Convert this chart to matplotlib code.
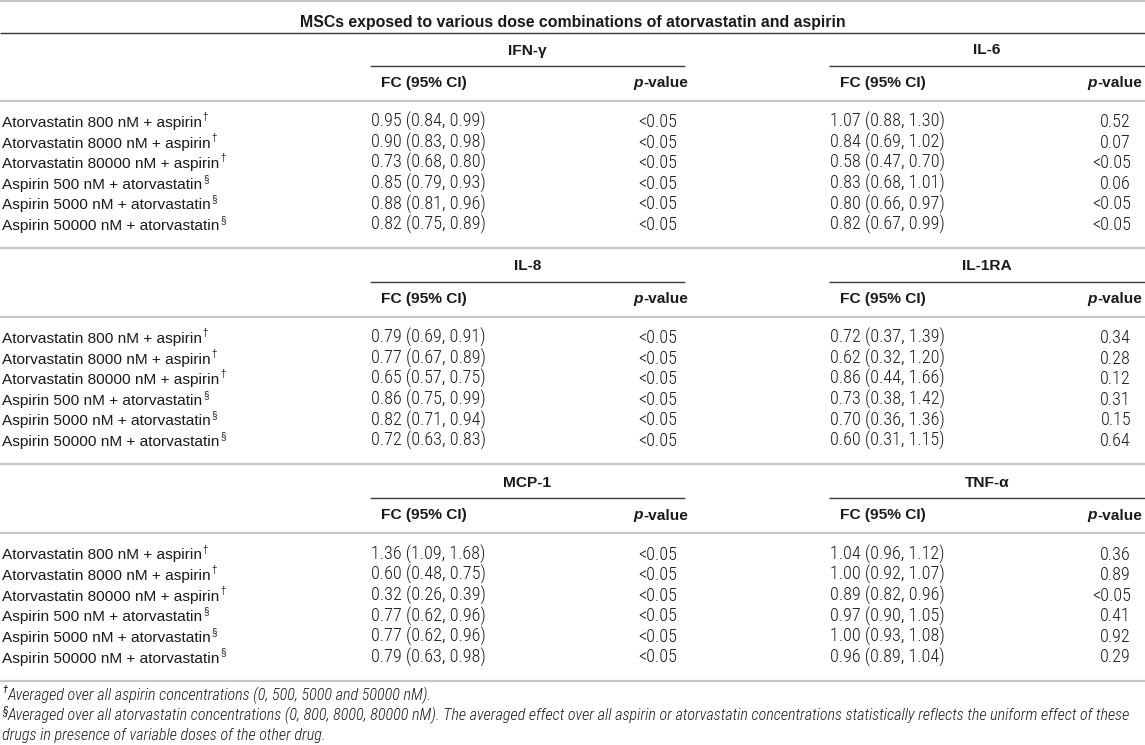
import matplotlib
matplotlib.use("Agg")
import matplotlib.pyplot as plt
from matplotlib import font_manager as fm

# ---------------- data ----------------
title = "MSCs exposed to various dose combinations of atorvastatin and aspirin"
row_labels = ["Atorvastatin 800 nM + aspirin", "Atorvastatin 8000 nM + aspirin",
              "Atorvastatin 80000 nM + aspirin", "Aspirin 500 nM + atorvastatin",
              "Aspirin 5000 nM + atorvastatin", "Aspirin 50000 nM + atorvastatin"]
row_marks = ["\u2020", "\u2020", "\u2020", "\u00a7", "\u00a7", "\u00a7"]
cytokines = ["IFN-\u03b3", "IL-6", "IL-8", "IL-1RA", "MCP-1", "TNF-\u03b1"]

fc_ifn = [0.95, 0.90, 0.73, 0.85, 0.88, 0.82]
lo_ifn = [0.84, 0.83, 0.68, 0.79, 0.81, 0.75]
hi_ifn = [0.99, 0.98, 0.80, 0.93, 0.96, 0.89]
p_ifn = ["<0.05"] * 6

fc_il6 = [1.07, 0.84, 0.58, 0.83, 0.80, 0.82]
lo_il6 = [0.88, 0.69, 0.47, 0.68, 0.66, 0.67]
hi_il6 = [1.30, 1.02, 0.70, 1.01, 0.97, 0.99]
p_il6 = ["0.52", "0.07", "<0.05", "0.06", "<0.05", "<0.05"]

fc_il8 = [0.79, 0.77, 0.65, 0.86, 0.82, 0.72]
lo_il8 = [0.69, 0.67, 0.57, 0.75, 0.71, 0.63]
hi_il8 = [0.91, 0.89, 0.75, 0.99, 0.94, 0.83]
p_il8 = ["<0.05"] * 6

fc_il1ra = [0.72, 0.62, 0.86, 0.73, 0.70, 0.60]
lo_il1ra = [0.37, 0.32, 0.44, 0.38, 0.36, 0.31]
hi_il1ra = [1.39, 1.20, 1.66, 1.42, 1.36, 1.15]
p_il1ra = ["0.34", "0.28", "0.12", "0.31", "0.15", "0.64"]

fc_mcp1 = [1.36, 0.60, 0.32, 0.77, 0.77, 0.79]
lo_mcp1 = [1.09, 0.48, 0.26, 0.62, 0.62, 0.63]
hi_mcp1 = [1.68, 0.75, 0.39, 0.96, 0.96, 0.98]
p_mcp1 = ["<0.05"] * 6

fc_tnf = [1.04, 1.00, 0.89, 0.97, 1.00, 0.96]
lo_tnf = [0.96, 0.92, 0.82, 0.90, 0.93, 0.89]
hi_tnf = [1.12, 1.07, 0.96, 1.05, 1.08, 1.04]
p_tnf = ["0.36", "0.89", "<0.05", "0.41", "0.92", "0.29"]

col_head_fc = "FC (95% CI)"
col_head_p = "-value"
footnote1 = "Averaged over all aspirin concentrations (0, 500, 5000 and 50000 nM)."
footnote2a = ("Averaged over all atorvastatin concentrations (0, 800, 8000, 80000 nM). The averaged effect over all "
              "aspirin or atorvastatin concentrations statistically reflects the uniform effect of these")
footnote2b = "drugs in presence of variable doses of the other drug."

series = [(fc_ifn, lo_ifn, hi_ifn, p_ifn), (fc_il6, lo_il6, hi_il6, p_il6),
          (fc_il8, lo_il8, hi_il8, p_il8), (fc_il1ra, lo_il1ra, hi_il1ra, p_il1ra),
          (fc_mcp1, lo_mcp1, hi_mcp1, p_mcp1), (fc_tnf, lo_tnf, hi_tnf, p_tnf)]

# ---------------- fonts ----------------
avail = set(f.name for f in fm.fontManager.ttflist)
def pick(cands):
    for c in cands:
        if c in avail:
            return c
    return "DejaVu Sans"

label_font = pick(["Liberation Sans", "Arimo", "Roboto"])
num_font = pick(["Roboto Condensed", "IBM Plex Sans Condensed", "Fira Sans Condensed",
                 "Barlow Semi Condensed", "Liberation Sans Narrow", "Archivo Narrow"])

W, H = 1145, 745
fig = plt.figure(figsize=(W / 100, H / 100), dpi=100)
ax = fig.add_axes([0, 0, 1, 1])
ax.set_xlim(0, W)
ax.set_ylim(H, 0)
ax.axis("off")
renderer = fig.canvas.get_renderer()

def fit_size(family, weight, style, sample, target):
    t = ax.text(0, 0, sample, family=family, weight=weight, style=style, fontsize=10)
    w = t.get_window_extent(renderer).width
    t.remove()
    return 10 * target / w

sz_label = fit_size(label_font, "normal", "normal", "Atorvastatin 80000 nM + aspirin", 218)
sz_num = fit_size(num_font, "light", "normal", "0.95 (0.84, 0.99)", 115)
sz_head = fit_size(label_font, "bold", "normal", "FC (95% CI)", 86)
sz_title = fit_size(label_font, "bold", "normal", title, 544)
sz_foot = fit_size(num_font, "light", "italic", footnote2a, 1122)

TXT = "#1a1a1a"
GRAY = "#c6c6c6"
DARK = "#3a3a3a"

def hline(y, x0=0, x1=W, color=GRAY, lw=1.5):
    ax.plot([x0, x1], [y, y], color=color, lw=lw, solid_capstyle="butt")

def sup_after(t, mark, size, family, style="normal"):
    bb = t.get_window_extent(renderer)
    x, y = t.get_position()
    ax.text(x + bb.width + 0.8, y - size * 0.62, mark, family=family, fontsize=size * 0.62,
            style=style, va="baseline", ha="left", color=TXT)

# top line + title
hline(0.8, lw=1.6)
ax.text(W / 2, 27, title, family=label_font, weight="bold", fontsize=sz_title,
        ha="center", va="baseline", color=TXT)

x_label = 2
col_fc = [371, 830]
col_fc_head = [381, 840]
col_p = [677, 1131]
col_p_head = [688, 1142]
under = [(370, 685), (829, W)]
block_top = [33, 249, 465.5]
row_step = 20.6

for b, y0 in enumerate(block_top):
    if b == 0:
        hline(y0, color=DARK, lw=1.0)
    for k in range(2):
        ci = 2 * b + k
        xa, xb = under[k]
        ax.text((xa + xb) / 2, y0 + 21.5, cytokines[ci], family=label_font, weight="bold",
                fontsize=sz_head, ha="center", va="baseline", color=TXT)
        hline(y0 + 32.5, xa, xb, color=DARK, lw=1.0)
        ax.text(col_fc_head[k], y0 + 54, col_head_fc, family=label_font, weight="bold",
                fontsize=sz_head, ha="left", va="baseline", color=TXT)
        tv = ax.text(col_p_head[k], y0 + 54, col_head_p, family=label_font, weight="bold",
                     fontsize=sz_head, ha="right", va="baseline", color=TXT)
        wv = tv.get_window_extent(renderer).width
        ax.text(col_p_head[k] - wv, y0 + 54, "p", family=label_font, weight="bold", style="italic",
                fontsize=sz_head, ha="right", va="baseline", color=TXT)
    hline(y0 + 67.5)
    for i, lab in enumerate(row_labels):
        y = y0 + 94 + row_step * i
        t = ax.text(x_label, y, lab, family=label_font, fontsize=sz_label, ha="left",
                    va="baseline", color=TXT)
        sup_after(t, row_marks[i], sz_label, label_font)
        for k in range(2):
            fc, lo, hi, pv = series[2 * b + k]
            ax.text(col_fc[k], y, f"{fc[i]:.2f} ({lo[i]:.2f}, {hi[i]:.2f})", family=num_font,
                    weight="light", fontsize=sz_num, ha="left", va="baseline", color=TXT)
            ax.text(col_p[k], y, pv[i], family=num_font, weight="light", fontsize=sz_num,
                    ha="right", va="baseline", color=TXT)
    hline(y0 + 215, lw=1.6)

# footnotes
ax.text(2, 693, "\u2020", family=num_font, fontsize=sz_foot * 0.65, style="italic",
        ha="left", va="baseline", color=TXT)
ax.text(8, 700, footnote1, family=num_font, weight="light", style="italic", fontsize=sz_foot,
        ha="left", va="baseline", color=TXT)
ax.text(2, 713, "\u00a7", family=num_font, fontsize=sz_foot * 0.65, style="italic",
        ha="left", va="baseline", color=TXT)
ax.text(8, 720, footnote2a, family=num_font, weight="light", style="italic", fontsize=sz_foot,
        ha="left", va="baseline", color=TXT)
ax.text(2, 740, footnote2b, family=num_font, weight="light", style="italic", fontsize=sz_foot,
        ha="left", va="baseline", color=TXT)

fig.savefig("out.png", dpi=100)
